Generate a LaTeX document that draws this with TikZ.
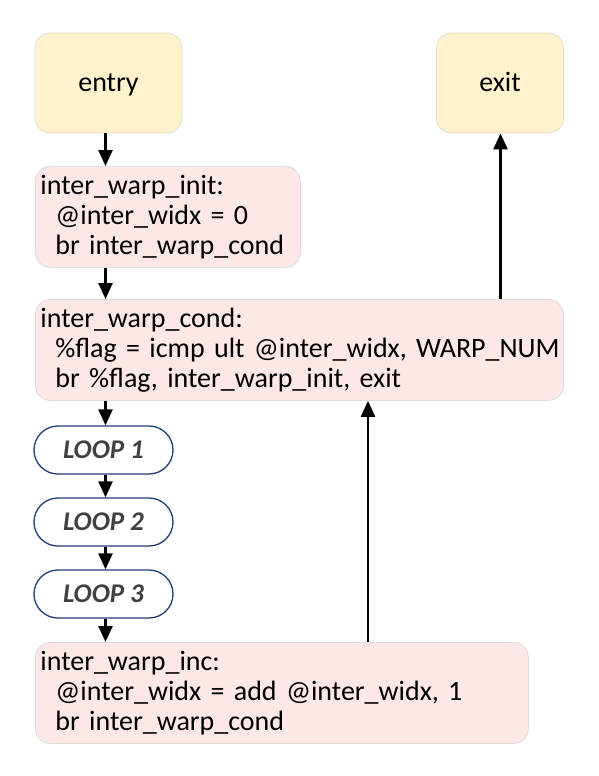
\documentclass[tikz,border=0pt]{standalone}
\usepackage{fontspec}
\setmainfont{Carlito}
\usetikzlibrary{arrows.meta,calc}
\definecolor{yel}{HTML}{FFF2CC}
\definecolor{pnk}{HTML}{FDE7E7}
\definecolor{bord}{HTML}{DCDCDC}
\definecolor{ybord}{HTML}{E3DDCB}
\definecolor{navy}{HTML}{203F7A}
\definecolor{loopt}{HTML}{404040}
\newcommand{\codeline}[1]{\mbox{\hspace*{15pt}#1}}
\begin{document}
\begin{tikzpicture}[x=1pt,y=-1pt,
  termbox/.style={draw=ybord, line width=0.8pt, fill=yel, rounded corners=15pt,
    minimum width=147pt, minimum height=100pt, inner sep=0pt,
    text height=21pt, text depth=3pt,
    font=\fontsize{28}{30}\selectfont},
  codebox/.style={draw=bord, line width=0.8pt, fill=pnk, rounded corners=15pt,
    anchor=north west, inner xsep=5pt, inner ysep=0pt, align=left,
    minimum height=101pt, font=\fontsize{28}{30}\selectfont},
  loopbox/.style={draw=navy, line width=1.3pt, fill=white, rounded corners=24pt,
    minimum width=139pt, minimum height=48pt, inner sep=0pt,
    text=loopt, font=\fontsize{27}{30}\selectfont\bfseries\itshape},
  flow/.style={line width=2.5pt, -{Triangle[width=14pt,length=16pt]}}
]
\useasboundingbox (0,0) rectangle (598,776);
\node[termbox] (entry) at (108.5,83) {entry};
\node[termbox, minimum width=127pt] (exit) at (500,83) {exit};
\node[codebox, text width=255pt] (init) at (35,166)
  {\mbox{inter\_warp\_init:}\\\codeline{@inter\_widx = 0}\\\codeline{br inter\_warp\_cond}};
\node[codebox, text width=518pt] (cond) at (35,299)
  {\mbox{inter\_warp\_cond:}\\\codeline{\%flag = icmp ult @inter\_widx, WARP\_NUM}\\\codeline{br \%flag, inter\_warp\_init, exit}};
\node[loopbox] (l1) at (103.5,450) {LOOP 1};
\node[loopbox] (l2) at (103.5,522) {LOOP 2};
\node[loopbox] (l3) at (103.5,594) {LOOP 3};
\node[codebox, text width=483pt] (inc) at (35,642)
  {\mbox{inter\_warp\_inc:}\\\codeline{@inter\_widx = add @inter\_widx, 1}\\\codeline{br inter\_warp\_cond}};
\coordinate (ax) at (105.5,0);
\coordinate (bx) at (368,0);
\coordinate (cx) at (500.5,0);
\draw[flow] (entry.south -| ax) -- (init.north -| ax);
\draw[flow] (init.south -| ax) -- (cond.north -| ax);
\draw[flow] (cond.south -| ax) -- (l1.north -| ax);
\draw[flow] (l1.south -| ax) -- (l2.north -| ax);
\draw[flow] (l2.south -| ax) -- (l3.north -| ax);
\draw[flow] (l3.south -| ax) -- (inc.north -| ax);
\draw[flow] (inc.north -| bx) -- (cond.south -| bx);
\draw[flow] (cond.north -| cx) -- (exit.south -| cx);
\end{tikzpicture}
\end{document}
